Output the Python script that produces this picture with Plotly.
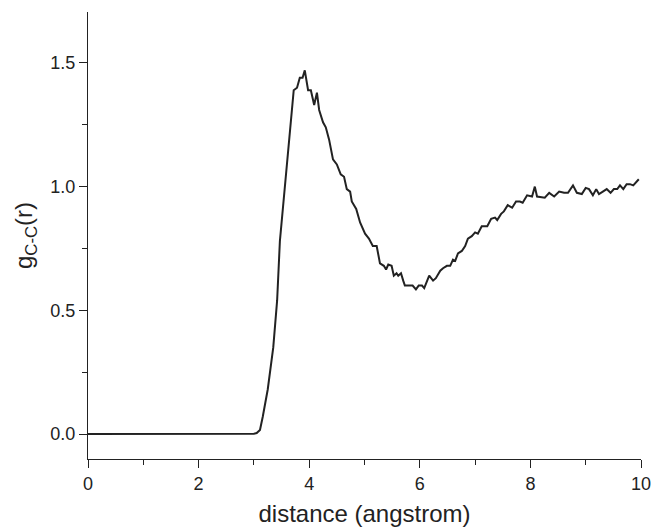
import plotly.graph_objects as go

r = [0.0, 1.0, 2.0, 2.9, 3.0, 3.05, 3.11, 3.16, 3.25, 3.35, 3.42, 3.47, 3.53, 3.62, 3.72, 3.78,
     3.83, 3.88, 3.92, 3.98, 4.03, 4.09, 4.14, 4.18, 4.25, 4.30, 4.36, 4.43, 4.50, 4.57,
     4.63, 4.68, 4.74, 4.77, 4.85, 4.92, 5.01, 5.08, 5.15, 5.22, 5.28, 5.35, 5.39, 5.43,
     5.49, 5.53, 5.58, 5.61, 5.66, 5.70, 5.73, 5.82, 5.87, 5.93, 5.98, 6.04, 6.08, 6.17,
     6.24, 6.29, 6.37, 6.42, 6.49, 6.55, 6.60, 6.64, 6.69, 6.76, 6.82, 6.87, 6.94, 7.00,
     7.05, 7.12, 7.22, 7.29, 7.36, 7.40, 7.47, 7.52, 7.59, 7.67, 7.74, 7.81, 7.86, 7.94,
     8.03, 8.08, 8.12, 8.26, 8.34, 8.43, 8.52, 8.61, 8.68, 8.77, 8.84, 8.93, 9.00, 9.06,
     9.13, 9.19, 9.24, 9.31, 9.38, 9.45, 9.51, 9.57, 9.62, 9.68, 9.74, 9.80, 9.86, 9.96]
g = [0.0, 0.0, 0.0, 0.0, 0.001, 0.004, 0.016, 0.07, 0.18, 0.35, 0.54, 0.78, 0.93, 1.15, 1.39, 1.40,
     1.44, 1.44, 1.47, 1.39, 1.39, 1.33, 1.38, 1.31, 1.26, 1.24, 1.19, 1.11, 1.09, 1.05,
     1.04, 0.99, 0.98, 0.94, 0.91, 0.855, 0.81, 0.79, 0.76, 0.76, 0.69, 0.68, 0.665, 0.685,
     0.68, 0.64, 0.65, 0.64, 0.65, 0.62, 0.60, 0.60, 0.60, 0.585, 0.60, 0.60, 0.59, 0.64,
     0.62, 0.63, 0.66, 0.67, 0.68, 0.68, 0.705, 0.70, 0.73, 0.74, 0.76, 0.79, 0.80, 0.815,
     0.81, 0.84, 0.84, 0.87, 0.875, 0.865, 0.89, 0.90, 0.925, 0.915, 0.94, 0.94, 0.935, 0.965,
     0.96, 1.00, 0.96, 0.955, 0.975, 0.96, 0.98, 0.975, 0.975, 1.005, 0.975, 0.97, 0.995, 0.99,
     0.965, 0.99, 0.97, 0.98, 0.99, 0.975, 0.99, 0.99, 1.005, 0.99, 1.01, 1.01, 1.005, 1.03]

x_ticks = [0, 2, 4, 6, 8, 10]
y_ticks = [0.0, 0.5, 1.0, 1.5]
y_labels = ["0.0", "0.5", "1.0", "1.5"]

fig = go.Figure()
fig.add_trace(go.Scatter(x=r, y=g, mode="lines",
                         line=dict(color="#222222", width=2, shape="linear")))

font = "Liberation Sans, Arial, sans-serif"
fig.update_layout(
    width=652, height=527,
    margin=dict(l=88, r=11, t=12, b=68),
    paper_bgcolor="white", plot_bgcolor="white",
    showlegend=False,
    font=dict(family=font, color="#222222", size=18),
)
fig.update_xaxes(
    range=[0, 10], tickvals=x_ticks, ticktext=[str(v) for v in x_ticks],
    automargin=False, ticklabeloverflow="allow",
    showgrid=False, zeroline=False, showline=True, linecolor="#222222", linewidth=1.3,
    ticks="outside", ticklen=8, tickwidth=1.3, tickcolor="#222222",
    minor=dict(dtick=1, ticks="outside", ticklen=5, tickwidth=1.3, tickcolor="#222222"),
    tickfont=dict(size=18),
    title=dict(text="distance (angstrom)", font=dict(size=24), standoff=19),
)
fig.update_yaxes(
    range=[-0.101, 1.706], tickvals=y_ticks, ticktext=y_labels,
    automargin=False, ticklabeloverflow="allow",
    showgrid=False, zeroline=False, showline=True, linecolor="#222222", linewidth=1.3,
    ticks="outside", ticklen=8, tickwidth=1.3, tickcolor="#222222",
    minor=dict(tickvals=[0.25, 0.75, 1.25], ticks="outside", ticklen=5, tickwidth=1.3, tickcolor="#222222"),
    tickfont=dict(size=18),
    title=dict(text="g<sub>C-C</sub>(r)", font=dict(size=24), standoff=10),
)
fig.write_html(
    "out.html",
    config={"displayModeBar": False},
    post_script="document.body.style.margin='0';document.body.style.overflow='hidden';",
)
